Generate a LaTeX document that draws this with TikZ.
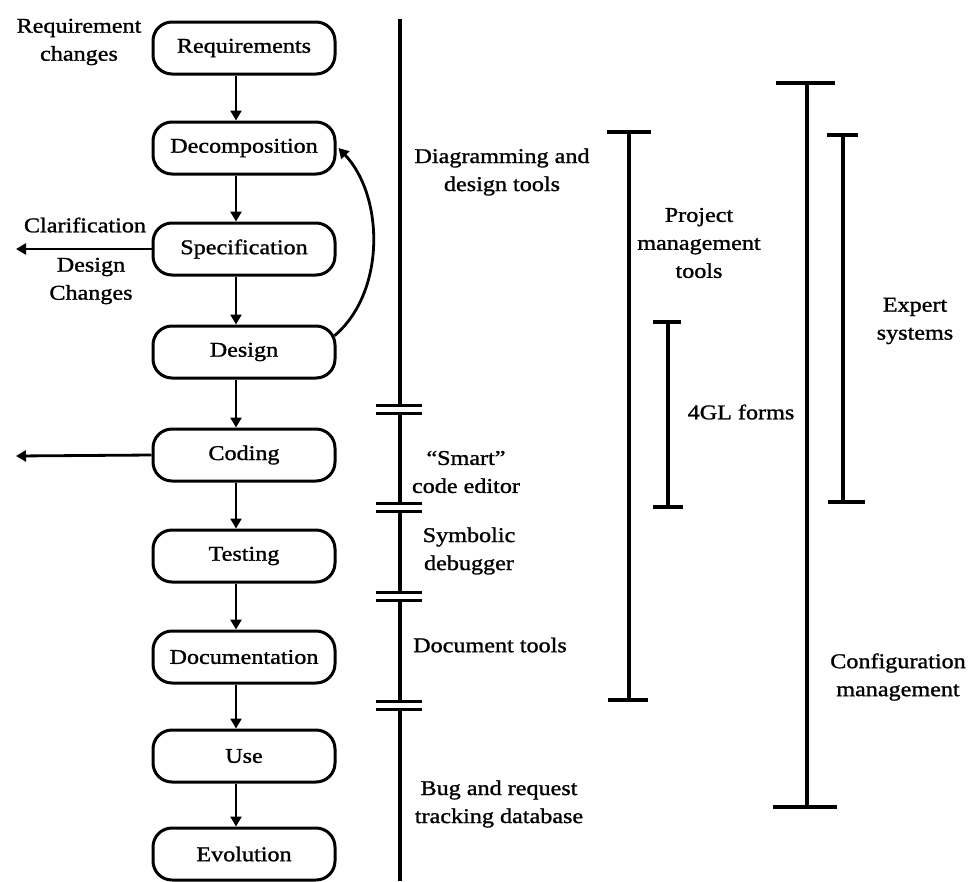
\documentclass[tikz,border=0pt]{standalone}
\usepackage{fontspec}
\setmainfont{Liberation Serif}[FakeStretch=1.15,FakeBold=1.2]
\usetikzlibrary{arrows.meta}
\begin{document}
\begin{tikzpicture}[x=1pt,y=-1pt,
  every node/.style={font=\fontsize{21}{28}\selectfont, inner sep=0pt, align=center},
  phase/.style={draw, line width=3pt, rounded corners=19pt,
    minimum width=182pt, minimum height=52pt},
  flow/.style={line width=2.8pt, -{Triangle[length=10pt,width=11pt]}},
  rule/.style={line width=3.4pt},
  endbar/.style={line width=3.2pt}]
\useasboundingbox (0,0) rectangle (971,881);

% life-cycle phases
\node[phase] (req)  at (244,48)  {Requirements};
\node[phase] (dec)  at (244,148) {Decomposition};
\node[phase] (spec) at (244,249) {Specification};
\node[phase] (des)  at (244,352) {Design};
\node[phase] (cod)  at (244,455) {Coding};
\node[phase] (tst)  at (244,556) {Testing};
\node[phase] (doc)  at (244,657) {Documentation};
\node[phase] (use)  at (244,756) {Use};
\node[phase] (evo)  at (244,854) {Evolution};

\foreach \a/\b in {req/dec,dec/spec,spec/des,des/cod,cod/tst,tst/doc,doc/use,use/evo}
  \draw[flow] ([xshift=-8pt]\a.south) -- ([xshift=-8pt]\b.north);

% feedback from design back to decomposition
\draw[flow] ([xshift=-2pt]des.10) .. controls (386,292) and (384,196) .. ([xshift=2pt]dec.east);

% outputs to the left
\coordinate (specout) at (16,249);
\coordinate (codout) at (16,456);
\draw[flow] (spec.west) -- (specout);
\draw[flow] (cod.west) -- (codout);

\node (rc)  at (79,42)  {Requirement\\changes};
\node (cl)  at (85,225) {Clarification};
\node (dc)  at (91,281) {Design\\Changes};

% tool timeline with breaks
\draw[rule] (400,19) -- (400,405);
\draw[rule] (400,413) -- (400,503);
\draw[rule] (400,511) -- (400,592);
\draw[rule] (400,600) -- (400,701);
\draw[rule] (400,709) -- (400,881);
\foreach \y in {405,413,503,511,592,600,701,709}
  \draw[line width=3pt] (376,\y) -- (422,\y);

\node (t1) at (502,172) {Diagramming and\\design tools};
\node (t2) at (466,472) {“Smart”\\code editor};
\node (t3) at (469,551) {Symbolic\\debugger};
\node (t4) at (490,645) {Document tools};
\node (t5) at (499,804) {Bug and request\\tracking database};

% span bars
\draw[rule] (629,132) -- (629,700);
\draw[endbar] (607,132) -- (651,132);
\draw[endbar] (608,700) -- (648,700);
\node (pm) at (699,243) {Project\\management\\tools};

\draw[rule] (668,322) -- (668,507);
\draw[endbar] (653,322) -- (681,322);
\draw[endbar] (653,507) -- (683,507);
\node (gl) at (741,412) {4GL forms};

\draw[rule] (807,83) -- (807,807);
\draw[endbar] (776,83) -- (835,83);
\draw[endbar] (773,807) -- (837,807);
\node (cm) at (898,677) {Configuration\\management};

\draw[rule] (843,135) -- (843,502);
\draw[endbar] (827,135) -- (858,135);
\draw[endbar] (828,502) -- (865,502);
\node (es) at (915,321) {Expert\\systems};
\end{tikzpicture}
\end{document}
